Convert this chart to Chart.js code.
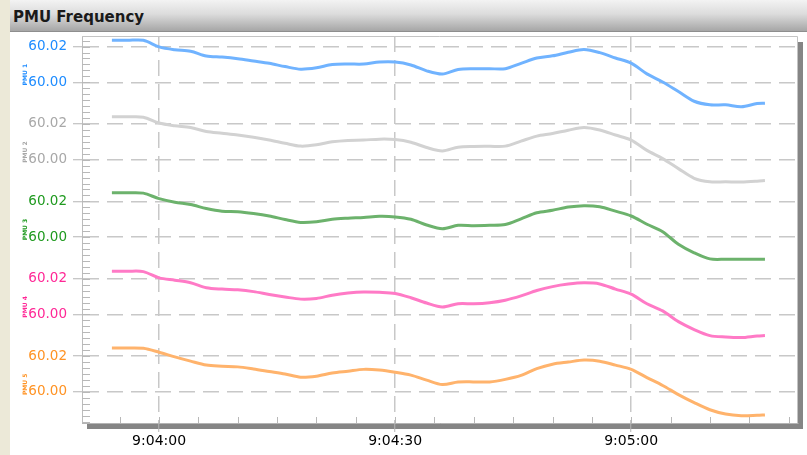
<!DOCTYPE html>
<html>
<head>
<meta charset="utf-8">
<title>PMU Frequency</title>
<script src="https://cdn.jsdelivr.net/npm/chart.js@4.4.1/dist/chart.umd.min.js"></script>
<style>
  html, body { margin: 0; padding: 0; }
  body { width: 807px; height: 455px; background: #ECE9D8; position: relative; overflow: hidden; }
  #titulo {
    position: absolute; left: 10px; top: 0; width: 797px; height: 32px; box-sizing: border-box;
    background: linear-gradient(#f3f3f3, #dcdcdc 45%, #a6a6a6); border-bottom: 1px solid #8e8e8e;
  }
  #titulo span { position: absolute; left: 3px; top: 8px; font: bold 15px "DejaVu Sans", Verdana, sans-serif; color: #1a1a1a; }
  #marco { position: absolute; left: 10px; top: 32px; width: 797px; height: 423px; background: #fff; }
</style>
</head>
<body>
<div id="titulo"><span>PMU Frequency</span></div>
<div id="marco"><canvas id="graficaPMU"></canvas></div>
<script>
// --- Datos (una muestra cada 2 s) ---
const horasMuestra = [
  '9:03:54','9:03:56','9:03:58','9:04:00','9:04:02','9:04:04','9:04:06','9:04:08','9:04:10','9:04:12',
  '9:04:14','9:04:16','9:04:18','9:04:20','9:04:22','9:04:24','9:04:26','9:04:28','9:04:30','9:04:32',
  '9:04:34','9:04:36','9:04:38','9:04:40','9:04:42','9:04:44','9:04:46','9:04:48','9:04:50','9:04:52',
  '9:04:54','9:04:56','9:04:58','9:05:00','9:05:02','9:05:04','9:05:06','9:05:08','9:05:10','9:05:12',
  '9:05:14','9:05:16','9:05:17'
];

const freqAzul = [
  60.0235, 60.0235, 60.0235, 60.0198, 60.0182, 60.0174, 60.0147, 60.0141, 60.0132, 60.0119,
  60.0106, 60.0088, 60.0073, 60.0081, 60.0099, 60.0102, 60.0102, 60.0113, 60.0113, 60.0097,
  60.0064, 60.0046, 60.0072, 60.0076, 60.0076, 60.0076, 60.0106, 60.0136, 60.0148, 60.0168,
  60.0183, 60.0166, 60.0136, 60.0107, 60.0047, 60.0002, 59.9948, 59.9894, 59.9874, 59.9874,
  59.9863, 59.9881, 59.9883
];
const freqGris = [
  60.0240, 60.0240, 60.0238, 60.0205, 60.0190, 60.0180, 60.0158, 60.0148, 60.0138, 60.0125,
  60.0110, 60.0092, 60.0076, 60.0083, 60.0100, 60.0108, 60.0110, 60.0115, 60.0113, 60.0098,
  60.0068, 60.0049, 60.0070, 60.0074, 60.0075, 60.0076, 60.0104, 60.0132, 60.0146, 60.0165,
  60.0180, 60.0166, 60.0138, 60.0110, 60.0052, 60.0006, 59.9950, 59.9896, 59.9876, 59.9876,
  59.9875, 59.9880, 59.9884
];
const freqVerde = [
  60.0248, 60.0248, 60.0246, 60.0215, 60.0195, 60.0182, 60.0160, 60.0145, 60.0142, 60.0132,
  60.0118, 60.0098, 60.0082, 60.0086, 60.0100, 60.0106, 60.0110, 60.0116, 60.0113, 60.0100,
  60.0068, 60.0047, 60.0066, 60.0064, 60.0066, 60.0070, 60.0102, 60.0136, 60.0150, 60.0168,
  60.0176, 60.0170, 60.0145, 60.0118, 60.0072, 60.0030, 59.9960, 59.9912, 59.9878, 59.9876,
  59.9876, 59.9876, 59.9876
];
const freqRosa = [
  60.0242, 60.0242, 60.0240, 60.0205, 60.0192, 60.0178, 60.0150, 60.0142, 60.0138, 60.0128,
  60.0112, 60.0098, 60.0086, 60.0090, 60.0108, 60.0120, 60.0126, 60.0124, 60.0118, 60.0094,
  60.0064, 60.0042, 60.0060, 60.0060, 60.0066, 60.0080, 60.0104, 60.0134, 60.0156, 60.0170,
  60.0177, 60.0171, 60.0142, 60.0114, 60.0060, 60.0020, 59.9960, 59.9916, 59.9882, 59.9874,
  59.9871, 59.9880, 59.9882
];
const freqNaranja = [
  60.0246, 60.0246, 60.0244, 60.0222, 60.0196, 60.0172, 60.0150, 60.0144, 60.0140, 60.0128,
  60.0114, 60.0100, 60.0082, 60.0088, 60.0106, 60.0116, 60.0126, 60.0122, 60.0110, 60.0094,
  60.0066, 60.0041, 60.0055, 60.0056, 60.0056, 60.0070, 60.0092, 60.0130, 60.0155, 60.0167,
  60.0178, 60.0172, 60.0150, 60.0126, 60.0080, 60.0036, 59.9985, 59.9940, 59.9900, 59.9876,
  59.9867, 59.9869, 59.9871
];

const nombresSeries = ['PMU 1', 'PMU 2', 'PMU 3', 'PMU 4', 'PMU 5'];
const etiquetasY = [60.00, 60.02];
const etiquetasX = ['9:04:00', '9:04:30', '9:05:00'];

// Colores de cada panel (línea y texto del eje)
const coloresLinea = ['#70B3FF', '#D2D2D2', '#6CB26C', '#FF7AC6', '#FFB36C'];
const coloresTexto = ['#1E8CFF', '#A8A8A8', '#1F9A1F', '#FF2896', '#FF9324'];

const series = [freqAzul, freqGris, freqVerde, freqRosa, freqNaranja];

function aSegundos(hms) {
  const p = hms.split(':').map(Number);
  return p[0] * 3600 + p[1] * 60 + p[2];
}

const xMin = aSegundos('9:03:50.2');
const xMax = aSegundos('9:05:21.2');
// rango de cada panel (60.02 queda a ~10 px del borde superior)
const yMin = 59.9826, yMax = 60.0259;

// Marco con sombra y marcas menores dentro del área de trazado
const marcoPlot = {
  id: 'marcoPlot',
  beforeDraw(chart) {
    const { ctx, chartArea: a } = chart;
    ctx.save();
    ctx.fillStyle = '#858585';
    ctx.fillRect(a.left + 5, a.top + 6, a.right - a.left, a.bottom - a.top);
    ctx.fillStyle = '#ffffff';
    ctx.fillRect(a.left, a.top, a.right - a.left, a.bottom - a.top);
    ctx.restore();
  },
  beforeDatasetsDraw(chart) {
    const { ctx, chartArea: a, scales } = chart;
    ctx.save();
    ctx.strokeStyle = '#b8b8b8';
    ctx.lineWidth = 1;
    ctx.beginPath();
    series.forEach((s, i) => {
      const esc = scales['y' + i];
      for (let n = -5; n <= 7; n++) {
        const y = Math.round(esc.getPixelForValue(60 + n * 0.02 / 6)) + 0.5;
        ctx.moveTo(a.left, y);
        ctx.lineTo(a.left + 8, y);
      }
    });
    for (let t = aSegundos('9:03:55'); t < xMax; t += 5) {
      const x = Math.round(scales.x.getPixelForValue(t)) + 0.5;
      ctx.moveTo(x, a.bottom);
      ctx.lineTo(x, a.bottom - 6);
    }
    ctx.stroke();
    ctx.restore();
  },
  afterDraw(chart) {
    const { ctx, chartArea: a } = chart;
    ctx.save();
    ctx.strokeStyle = '#c4c4c4';
    ctx.lineWidth = 1;
    ctx.beginPath();
    ctx.moveTo(a.left, a.top + 0.5);
    ctx.lineTo(a.right - 0.5, a.top + 0.5);
    ctx.lineTo(a.right - 0.5, a.bottom);
    ctx.stroke();
    ctx.restore();
  }
};

function ejeY(i) {
  return {
    type: 'linear',
    position: 'left',
    stack: 'pmu',
    stackWeight: 1,
    min: yMin,
    max: yMax,
    afterBuildTicks: esc => { esc.ticks = etiquetasY.map(v => ({ value: v })); },
    afterFit: esc => {
      // ancho fijo y sin margen extra arriba/abajo para las etiquetas
      esc.width = 72;
      esc.paddingTop = 0;
      esc.paddingBottom = 0;
    },
    ticks: {
      color: coloresTexto[i],
      font: { size: 13.5 },
      padding: 6,
      callback: v => v.toFixed(2)
    },
    grid: { color: '#c8c8c8', lineWidth: 1.5, tickLength: 9, tickColor: '#b4b4b4', tickWidth: 1 },
    border: { color: '#bcbcbc', width: 1, dash: [16, 8] },
    title: {
      display: true, text: nombresSeries[i], color: coloresTexto[i],
      font: { size: 6, weight: 'bold' }, padding: { top: 12, bottom: 0 }
    }
  };
}

function inicializarGrafica() {
  const canvas = document.getElementById('graficaPMU');
  const ctx = canvas.getContext('2d');
  Chart.defaults.font.family = '"DejaVu Sans", Verdana, sans-serif';

  // 1. Escalas: los paneles apilados se agregan de abajo hacia arriba
  const escalas = {};
  for (let i = series.length - 1; i >= 0; i--) {
    escalas['y' + i] = ejeY(i);
  }
  escalas.x = {
    type: 'linear',
    position: 'bottom',
    min: xMin,
    max: xMax,
    afterBuildTicks: esc => { esc.ticks = etiquetasX.map(t => ({ value: aSegundos(t) })); },
    afterFit: esc => { esc.height = 32; },
    ticks: {
      color: '#000',
      font: { size: 14 },
      padding: 1,
      maxRotation: 0,
      autoSkip: false,
      callback: (v, i) => etiquetasX[i]
    },
    grid: { color: '#c8c8c8', lineWidth: 1.5, tickLength: 9, tickColor: '#b4b4b4', tickWidth: 1 },
    border: { color: '#b4b4b4', width: 1, dash: [16, 8] }
  };

  // 2. Una línea por PMU, cada una en su panel
  const datos = series.map((valores, i) => ({
    label: nombresSeries[i],
    data: horasMuestra.map((h, j) => ({ x: aSegundos(h), y: valores[j] })),
    yAxisID: 'y' + i,
    borderColor: coloresLinea[i],
    borderWidth: 3,
    pointRadius: 0,
    tension: 0.3,
    fill: false
  }));

  window.miGraficaPMU = new Chart(ctx, {
    type: 'line',
    data: { datasets: datos },
    options: {
      responsive: true,
      maintainAspectRatio: false,
      animation: false,
      layout: { padding: { left: 0, top: 4, right: 9, bottom: 0 } },
      plugins: {
        legend: { display: false },
        tooltip: { enabled: false }
      },
      scales: escalas
    },
    plugins: [marcoPlot]
  });
}

document.addEventListener('DOMContentLoaded', function() {
  inicializarGrafica();
});
</script>
</body>
</html>
